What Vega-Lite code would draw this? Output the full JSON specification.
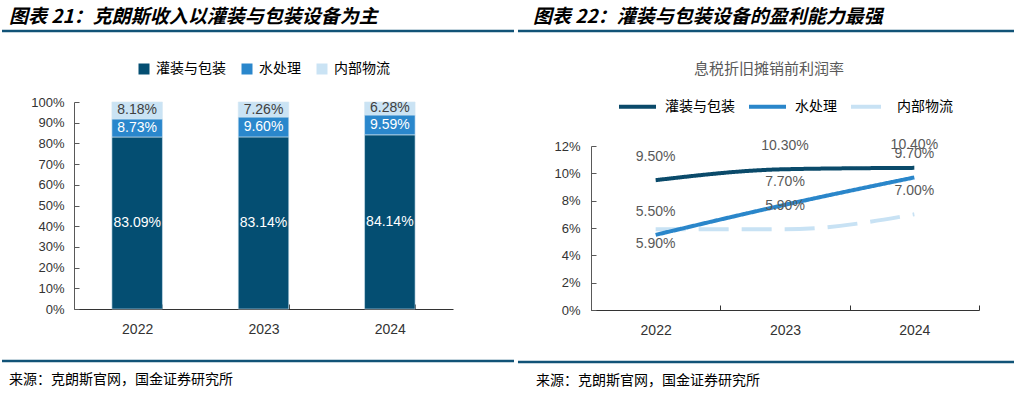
{
  "$schema": "https://vega.github.io/schema/vega-lite/v6.json",
  "padding": 0,
  "background": "white",
  "datasets": {
    "share": [
      {"year": "2022", "series": "灌装与包装", "k": 1, "share": 0.8309},
      {"year": "2022", "series": "水处理", "k": 2, "share": 0.0873},
      {"year": "2022", "series": "内部物流", "k": 3, "share": 0.0818},
      {"year": "2023", "series": "灌装与包装", "k": 1, "share": 0.8314},
      {"year": "2023", "series": "水处理", "k": 2, "share": 0.0960},
      {"year": "2023", "series": "内部物流", "k": 3, "share": 0.0726},
      {"year": "2024", "series": "灌装与包装", "k": 1, "share": 0.8414},
      {"year": "2024", "series": "水处理", "k": 2, "share": 0.0959},
      {"year": "2024", "series": "内部物流", "k": 3, "share": 0.0628}
    ],
    "ebitda": [
      {"year": "2022", "series": "内部物流", "margin": 0.059},
      {"year": "2023", "series": "内部物流", "margin": 0.059},
      {"year": "2024", "series": "内部物流", "margin": 0.070},
      {"year": "2022", "series": "水处理", "margin": 0.055},
      {"year": "2023", "series": "水处理", "margin": 0.077},
      {"year": "2024", "series": "水处理", "margin": 0.097},
      {"year": "2022", "series": "灌装与包装", "margin": 0.095},
      {"year": "2023", "series": "灌装与包装", "margin": 0.103},
      {"year": "2024", "series": "灌装与包装", "margin": 0.104}
    ]
  },
  "columns": 2,
  "spacing": 0,
  "align": "none",
  "resolve": {
    "scale": {"color": "independent", "strokeDash": "independent", "x": "independent", "y": "independent"},
    "legend": {"color": "independent", "strokeDash": "independent"}
  },
  "concat": [
    {
      "columns": 1,
      "spacing": 0,
      "align": "none",
      "resolve": {"scale": {"color": "independent", "x": "independent", "y": "independent"}, "legend": {"color": "independent"}},
      "concat": [
        {
          "width": 440, "height": 62,
          "data": {"values": [{"label": "图表 21：克朗斯收入以灌装与包装设备为主"}]},
          "layer": [
            {"mark": {"type": "text", "align": "left", "baseline": "middle", "font": "Noto Sans CJK SC", "fontSize": 19, "fontWeight": "bold", "fontStyle": "italic", "color": "#000000"},
             "encoding": {
               "x": {"datum": -0.1477, "type": "quantitative", "scale": {"domain": [0, 1]}, "axis": null},
               "y": {"datum": 0.726, "type": "quantitative", "scale": {"domain": [0, 1]}, "axis": null},
               "text": {"field": "label"}}},
            {"mark": {"type": "rule", "color": "#115377", "strokeWidth": 2.5},
             "encoding": {
               "x": {"datum": -0.1636, "type": "quantitative"},
               "x2": {"datum": 1},
               "y": {"datum": 0.5, "type": "quantitative"}}}
          ]
        },
        {
          "width": 379, "height": 207,
          "data": {"name": "share"},
          "transform": [
            {"stack": "share", "groupby": ["year"], "sort": [{"field": "k", "order": "ascending"}], "as": ["s0", "s1"]},
            {"calculate": "(datum.s0 + datum.s1) / 2", "as": "mid"}
          ],
          "encoding": {
            "x": {"field": "year", "type": "nominal", "title": null,
                  "scale": {"type": "band", "paddingInner": 0.6, "paddingOuter": 0.3},
                  "axis": {"tickBand": "extent", "tickSize": -5, "labelPadding": 18, "labelAngle": 0,
                           "domainColor": "#333333", "tickColor": "#333333", "labelColor": "#333333",
                           "labelFont": "Liberation Sans", "labelFontSize": 14, "grid": false}}
          },
          "layer": [
            {"mark": {"type": "bar", "stroke": "#d3e5f2", "strokeWidth": 0.6},
             "encoding": {
               "y": {"field": "s0", "type": "quantitative", "title": null,
                     "scale": {"domain": [0, 1], "nice": false},
                     "axis": {"values": [0, 0.1, 0.2, 0.3, 0.4, 0.5, 0.6, 0.7, 0.8, 0.9, 1], "format": ".0%",
                              "tickSize": -5, "labelPadding": 15, "minExtent": 67, "grid": false, "labelOverlap": false,
                              "domainColor": "#595959", "tickColor": "#595959", "labelColor": "#333333",
                              "labelFont": "Liberation Sans", "labelFontSize": 13}},
               "y2": {"field": "s1"},
               "color": {"field": "series", "type": "nominal",
                         "scale": {"domain": ["灌装与包装", "水处理", "内部物流"], "range": ["#044E72", "#2A87CC", "#CAE3F4"]},
                         "legend": {"orient": "top", "direction": "horizontal", "title": null, "symbolType": "square",
                                    "symbolSize": 121, "symbolStrokeWidth": 0, "labelFont": "Noto Sans CJK SC",
                                    "labelFontSize": 14, "labelColor": "#000000", "labelOffset": 5, "columnPadding": 14,
                                    "offset": 26, "padding": 0}}}},
            {"mark": {"type": "text", "font": "Liberation Sans", "fontSize": 14},
             "encoding": {
               "y": {"field": "mid", "type": "quantitative", "title": null,
                     "scale": {"domain": [0, 1], "nice": false},
                     "axis": {"values": [0, 0.1, 0.2, 0.3, 0.4, 0.5, 0.6, 0.7, 0.8, 0.9, 1], "format": ".0%",
                              "tickSize": -5, "labelPadding": 15, "minExtent": 67, "grid": false, "labelOverlap": false,
                              "domainColor": "#595959", "tickColor": "#595959", "labelColor": "#333333",
                              "labelFont": "Liberation Sans", "labelFontSize": 13}},
               "text": {"field": "share", "type": "quantitative", "format": ".2%"},
               "color": {"condition": {"test": "datum.series === '内部物流'", "value": "#404040"}, "value": "#ffffff"}}}
          ]
        },
        {
          "width": 440, "height": 65,
          "data": {"values": [{"label": "来源：克朗斯官网，国金证券研究所"}]},
          "layer": [
            {"mark": {"type": "rule", "color": "#115377", "strokeWidth": 2.5},
             "encoding": {
               "x": {"datum": -0.1636, "type": "quantitative", "scale": {"domain": [0, 1]}, "axis": null},
               "x2": {"datum": 1},
               "y": {"datum": 0.615, "type": "quantitative", "scale": {"domain": [0, 1]}, "axis": null}}},
            {"mark": {"type": "text", "align": "left", "baseline": "middle", "font": "Noto Sans CJK SC", "fontSize": 14, "color": "#000000"},
             "encoding": {
               "x": {"datum": -0.1477, "type": "quantitative"},
               "y": {"datum": 0.323, "type": "quantitative"},
               "text": {"field": "label"}}}
          ]
        }
      ]
    },
    {
      "columns": 1,
      "spacing": 0,
      "align": "none",
      "resolve": {"scale": {"color": "independent", "strokeDash": "independent", "x": "independent", "y": "independent"}},
      "concat": [
        {
          "width": 429, "height": 62,
          "data": {"values": [{"label": "图表 22：灌装与包装设备的盈利能力最强"}]},
          "layer": [
            {"mark": {"type": "text", "align": "left", "baseline": "middle", "font": "Noto Sans CJK SC", "fontSize": 19, "fontWeight": "bold", "fontStyle": "italic", "color": "#000000"},
             "encoding": {
               "x": {"datum": -0.1352, "type": "quantitative", "scale": {"domain": [0, 1]}, "axis": null},
               "y": {"datum": 0.726, "type": "quantitative", "scale": {"domain": [0, 1]}, "axis": null},
               "text": {"field": "label"}}},
            {"mark": {"type": "rule", "color": "#115377", "strokeWidth": 2.5},
             "encoding": {
               "x": {"datum": -0.1702, "type": "quantitative"},
               "x2": {"datum": 1},
               "y": {"datum": 0.5, "type": "quantitative"}}}
          ]
        },
        {
          "width": 388, "height": 164,
          "title": {"text": "息税折旧摊销前利润率", "font": "Noto Sans CJK SC", "fontSize": 15, "fontWeight": "normal", "color": "#595959", "offset": 9, "anchor": "middle", "dx": -16},
          "data": {"name": "ebitda"},
          "encoding": {
            "x": {"field": "year", "type": "nominal", "title": null, "bandPosition": 0.5,
                  "scale": {"type": "band", "paddingInner": 0, "paddingOuter": 0},
                  "axis": {"tickBand": "extent", "tickSize": -5, "labelPadding": 18, "labelAngle": 0,
                           "domainColor": "#333333", "tickColor": "#333333", "labelColor": "#333333",
                           "labelFont": "Liberation Sans", "labelFontSize": 14, "grid": false}},
            "y": {"field": "margin", "type": "quantitative", "title": null,
                  "scale": {"domain": [0, 0.12], "nice": false},
                  "axis": {"values": [0, 0.02, 0.04, 0.06, 0.08, 0.1, 0.12], "format": ".0%",
                           "tickSize": -5, "labelPadding": 16, "minExtent": 68, "grid": false, "labelOverlap": false,
                           "domainColor": "#595959", "tickColor": "#595959", "labelColor": "#333333",
                           "labelFont": "Liberation Sans", "labelFontSize": 13}}
          },
          "layer": [
            {"mark": {"type": "line", "interpolate": "monotone", "strokeWidth": 4},
             "encoding": {
               "color": {"field": "series", "type": "nominal",
                         "scale": {"domain": ["灌装与包装", "水处理", "内部物流"], "range": ["#0A4A6A", "#2A86CA", "#C8E2F4"]},
                         "legend": {"orient": "top", "direction": "horizontal", "title": null, "symbolType": "stroke",
                                    "symbolSize": 1369, "symbolStrokeWidth": 4, "labelFont": "Noto Sans CJK SC",
                                    "labelFontSize": 14, "labelColor": "#000000", "labelOffset": 7, "columnPadding": 6,
                                    "offset": 31, "padding": 0}},
               "strokeDash": {"field": "series", "type": "nominal",
                              "scale": {"domain": ["灌装与包装", "水处理", "内部物流"], "range": [[1, 0], [1, 0], [30, 13]]},
                              "legend": {"orient": "top", "direction": "horizontal", "title": null, "symbolType": "stroke",
                                         "symbolSize": 1369, "symbolStrokeWidth": 4, "labelFont": "Noto Sans CJK SC",
                                         "labelFontSize": 14, "labelColor": "#000000", "labelOffset": 7, "columnPadding": 6,
                                         "offset": 31, "padding": 0}}}},
            {"transform": [{"filter": "!(datum.series === '内部物流' && datum.year === '2022')"}],
             "mark": {"type": "text", "font": "Liberation Sans", "fontSize": 14, "color": "#595959", "dy": -23},
             "encoding": {"text": {"field": "margin", "type": "quantitative", "format": ".2%"}}},
            {"transform": [{"filter": "datum.series === '内部物流' && datum.year === '2022'"}],
             "mark": {"type": "text", "font": "Liberation Sans", "fontSize": 14, "color": "#595959", "dy": 15},
             "encoding": {"text": {"field": "margin", "type": "quantitative", "format": ".2%"}}}
          ]
        },
        {
          "width": 429, "height": 65,
          "data": {"values": [{"label": "来源：克朗斯官网，国金证券研究所"}]},
          "layer": [
            {"mark": {"type": "rule", "color": "#115377", "strokeWidth": 2.5},
             "encoding": {
               "x": {"datum": -0.1702, "type": "quantitative", "scale": {"domain": [0, 1]}, "axis": null},
               "x2": {"datum": 1},
               "y": {"datum": 0.615, "type": "quantitative", "scale": {"domain": [0, 1]}, "axis": null}}},
            {"mark": {"type": "text", "align": "left", "baseline": "middle", "font": "Noto Sans CJK SC", "fontSize": 14, "color": "#000000"},
             "encoding": {
               "x": {"datum": -0.1282, "type": "quantitative"},
               "y": {"datum": 0.323, "type": "quantitative"},
               "text": {"field": "label"}}}
          ]
        }
      ]
    }
  ],
  "config": {
    "view": {"stroke": null},
    "legend": {"layout": {"top": {"anchor": "middle"}}}
  }
}
